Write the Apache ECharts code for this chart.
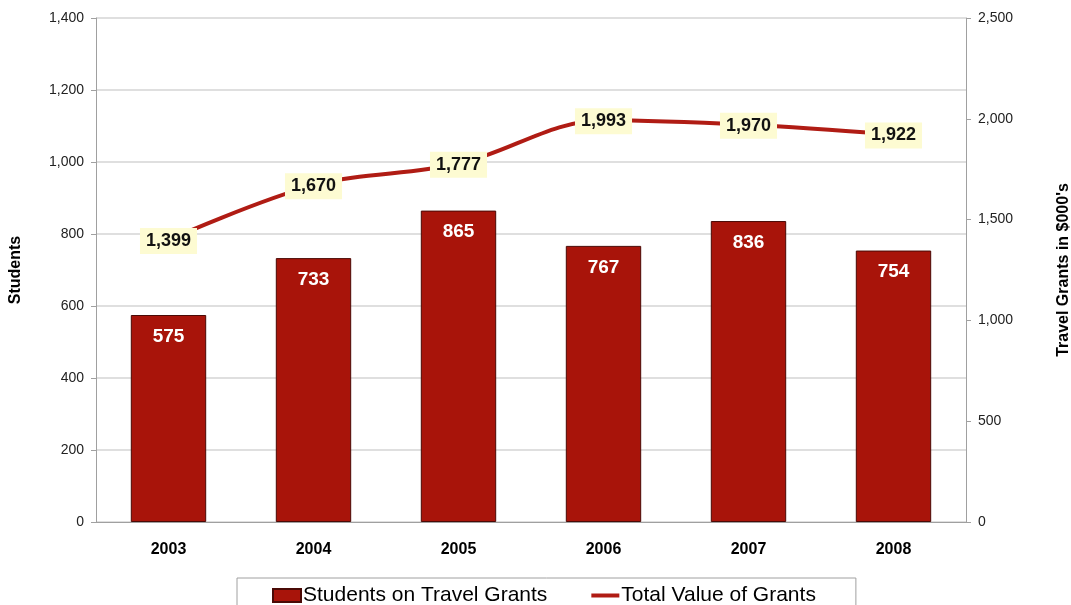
<!DOCTYPE html>
<html>
<head>
<meta charset="utf-8">
<script src="https://cdn.jsdelivr.net/npm/echarts@6/dist/echarts.min.js"></script>
<style>
  html, body { margin: 0; padding: 0; background: #fff; }
  #chart { width: 1071px; height: 605px; }
</style>
</head>
<body>
<div id="chart"></div>
<script>
// Travel grants by year
const years = ['2003', '2004', '2005', '2006', '2007', '2008'];
const students = [575, 733, 865, 767, 836, 754];
const grantValue = [1399, 1670, 1777, 1993, 1970, 1922];

const fmt = v => v.toLocaleString('en-US');
const font = 'Arial, "Liberation Sans", sans-serif';

const chart = echarts.init(document.getElementById('chart'));
chart.setOption({
  animation: false,
  textStyle: { fontFamily: font },
  grid: { left: 96, right: 105, top: 18, bottom: 83, outerBoundsMode: 'none' },
  legend: {
    bottom: -13,
    left: 237,
    padding: [7, 40, 12, 35],
    borderColor: '#a0a0a0',
    borderWidth: 1,
    itemGap: 44,
    itemWidth: 28,
    itemHeight: 13,
    textStyle: { fontSize: 21, color: '#000', fontFamily: font, padding: [0, 0, 0, -3] },
    data: [
      { name: 'Students on Travel Grants', icon: 'rect' },
      { name: 'Total Value of Grants', icon: 'path://M0,0 L28,0 L28,4 L0,4 Z' }
    ]
  },
  xAxis: {
    type: 'category',
    data: years,
    axisLine: { lineStyle: { color: '#a0a0a0' } },
    axisTick: { show: false },
    axisLabel: { fontSize: 16, fontWeight: 'bold', color: '#000', margin: 20 }
  },
  yAxis: [
    {
      type: 'value',
      min: 0, max: 1400, interval: 200,
      name: 'Students',
      nameLocation: 'middle',
      nameGap: 72,
      nameTextStyle: { fontSize: 16, fontWeight: 'bold', color: '#000' },
      axisLine: { show: true, lineStyle: { color: '#a0a0a0' } },
      axisTick: { show: true, length: 5, lineStyle: { color: '#a0a0a0' } },
      axisLabel: { fontSize: 14, color: '#222', margin: 12, formatter: fmt },
      splitLine: { lineStyle: { color: '#d4d4d4', width: 1.5 } }
    },
    {
      type: 'value',
      min: 0, max: 2500, interval: 500,
      name: "Travel Grants in $000's",
      nameLocation: 'middle',
      nameGap: 90,
      nameRotate: 90,
      nameTextStyle: { fontSize: 16, fontWeight: 'bold', color: '#000' },
      axisLine: { show: true, lineStyle: { color: '#a0a0a0' } },
      axisTick: { show: true, length: 5, lineStyle: { color: '#a0a0a0' } },
      axisLabel: { fontSize: 14, color: '#222', margin: 12, formatter: fmt },
      splitLine: { show: false }
    }
  ],
  series: [
    {
      name: 'Students on Travel Grants',
      type: 'bar',
      data: students,
      barWidth: '52%',
      itemStyle: { color: '#a8140a', borderColor: '#4a0a06', borderWidth: 1 },
      label: {
        show: true,
        position: 'insideTop',
        distance: 12,
        color: '#fff',
        fontSize: 19,
        fontWeight: 'bold',
        formatter: p => fmt(p.value)
      },
      z: 2
    },
    {
      name: 'Total Value of Grants',
      type: 'line',
      yAxisIndex: 1,
      data: grantValue,
      smooth: 0.35,
      symbol: 'circle',
      symbolSize: 1,
      showSymbol: true,
      lineStyle: { color: '#b01c14', width: 4 },
      itemStyle: { color: '#b01c14' },
      label: {
        show: true,
        position: 'inside',
        offset: [0, 1],
        color: '#111',
        fontSize: 18,
        fontWeight: 'bold',
        backgroundColor: '#fdfbd2',
        padding: [5, 6, 3, 6],
        formatter: p => fmt(p.value)
      },
      z: 3
    }
  ]
});
</script>
</body>
</html>
